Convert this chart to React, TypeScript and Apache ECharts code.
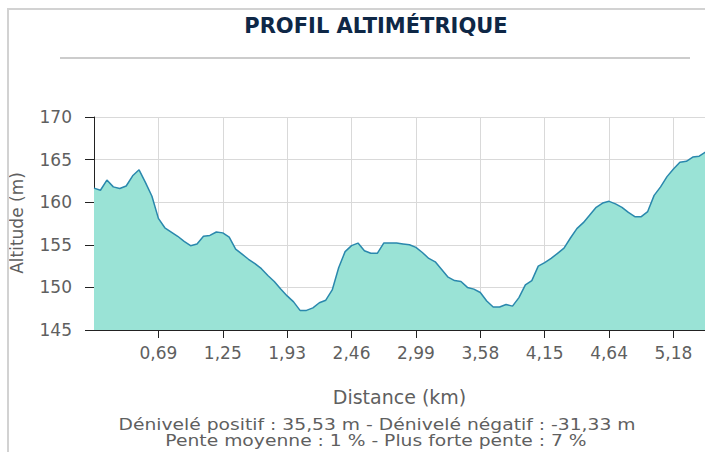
import React, { useEffect, useRef } from "react";
import * as echarts from "echarts";

// Distance labels shown under the x axis (every 10th sample point)
const tickLabels = ["0,69", "1,25", "1,93", "2,46", "2,99", "3,58", "4,15", "4,64", "5,18"];
const tickIndices = [10, 20, 30, 40, 50, 60, 70, 80, 90];

// Altitude (m) per sample point
const altitude = [
  161.65, 161.4, 162.6, 161.8, 161.6, 161.9, 163.1, 163.8, 162.3, 160.7,
  158.1, 157.0, 156.5, 156.0, 155.4, 154.9, 155.1, 156.0, 156.1, 156.5,
  156.4, 155.9, 154.5, 153.9, 153.3, 152.8, 152.2, 151.4, 150.7, 149.8,
  149.0, 148.3, 147.3, 147.3, 147.6, 148.2, 148.5, 149.7, 152.3, 154.2,
  154.9, 155.2, 154.3, 154.0, 154.0, 155.2, 155.2, 155.2, 155.1, 155.0,
  154.7, 154.1, 153.4, 153.0, 152.1, 151.2, 150.8, 150.7, 150.0, 149.8,
  149.4, 148.4, 147.7, 147.7, 148.0, 147.8, 148.8, 150.3, 150.8, 152.5,
  152.9, 153.4, 154.0, 154.6, 155.8, 156.9, 157.6, 158.5, 159.4, 159.9,
  160.1, 159.8, 159.4, 158.8, 158.3, 158.3, 158.9, 160.8, 161.8, 163.0,
  163.9, 164.7, 164.8, 165.3, 165.4, 165.9,
];

const yMin = 145;
const yMax = 170;
const yStep = 5;

const title = "PROFIL ALTIMÉTRIQUE";
const yTitle = "Altitude (m)";
const xTitle = "Distance (km)";
const statLine1 = "Dénivelé positif : 35,53 m - Dénivelé négatif : -31,33 m";
const statLine2 = "Pente moyenne : 1 % - Plus forte pente : 7 %";

const FONT = "DejaVu Sans, Verdana, sans-serif";
const LABEL = "#5f5f5f";

export default function App() {
  const ref = useRef<HTMLDivElement>(null);

  useEffect(() => {
    if (!ref.current) return;
    const chart = echarts.init(ref.current, undefined, { renderer: "svg" });
    const points = altitude.map((v, i) => [i, v]);
    chart.setOption({
      animation: false,
      grid: { left: 94, top: 117, width: 611, height: 213 },
      xAxis: {
        type: "value",
        min: 0,
        max: 94.9,
        name: xTitle,
        nameLocation: "middle",
        nameGap: 57,
        nameTextStyle: { fontFamily: FONT, fontSize: 19, color: LABEL },
        axisLine: { show: true, lineStyle: { color: "#222", width: 1 } },
        axisTick: { show: true, length: 8, customValues: tickIndices, lineStyle: { color: "#222" } },
        axisLabel: {
          customValues: tickIndices,
          margin: 14,
          fontFamily: FONT,
          fontSize: 17,
          color: LABEL,
          formatter: (v: number) => {
            const k = tickIndices.indexOf(Math.round(v));
            return k >= 0 ? tickLabels[k] : "";
          },
        },
        splitLine: { show: true, lineStyle: { color: "#d9d9d9", width: 1 } },
      },
      yAxis: {
        type: "value",
        min: yMin,
        max: yMax,
        interval: yStep,
        axisLine: { show: true, lineStyle: { color: "#222", width: 1 } },
        axisTick: { show: true, length: 9, lineStyle: { color: "#222" } },
        axisLabel: { margin: 22, fontFamily: FONT, fontSize: 17, color: LABEL },
        splitLine: { show: true, lineStyle: { color: "#d9d9d9", width: 1 } },
      },
      series: [
        {
          type: "line",
          data: points,
          symbol: "none",
          clip: true,
          lineStyle: { color: "#2a88ad", width: 1.5 },
          areaStyle: { color: "#9ae3d6", opacity: 1 },
          z: 1,
        },
      ],
      graphic: [
        {
          type: "text",
          x: 376,
          y: 26,
          style: {
            text: title,
            fontFamily: FONT,
            fontWeight: "bold",
            fontSize: 21,
            fill: "#0e2746",
            align: "center",
            verticalAlign: "middle",
          },
        },
        {
          type: "line",
          shape: { x1: 60, y1: 58, x2: 690, y2: 58 },
          style: { stroke: "#cccccc", lineWidth: 2 },
        },
        {
          type: "text",
          x: 17,
          y: 223,
          rotation: Math.PI / 2,
          style: {
            text: yTitle,
            fontFamily: FONT,
            fontSize: 17,
            fill: LABEL,
            align: "center",
            verticalAlign: "middle",
          },
        },
        {
          type: "text",
          x: 377,
          y: 424,
          scaleX: 1.17,
          style: {
            text: statLine1,
            fontFamily: FONT,
            fontSize: 16,
            fill: LABEL,
            align: "center",
            verticalAlign: "middle",
          },
        },
        {
          type: "text",
          x: 376,
          y: 440,
          scaleX: 1.17,
          style: {
            text: statLine2,
            fontFamily: FONT,
            fontSize: 16,
            fill: LABEL,
            align: "center",
            verticalAlign: "middle",
          },
        },
      ],
    });
    return () => chart.dispose();
  }, []);

  return (
    <div style={{ position: "fixed", left: 0, top: 0, width: 705, height: 452, overflow: "hidden", background: "#fff" }}>
      <div
        style={{
          position: "absolute",
          left: 7,
          top: 8,
          width: 800,
          height: 442,
          borderLeft: "2px solid #d2d2d2",
          borderTop: "2px solid #d2d2d2",
          overflow: "hidden",
        }}
      >
        <div ref={ref} style={{ position: "absolute", left: -9, top: -10, width: 720, height: 452 }} />
      </div>
    </div>
  );
}
